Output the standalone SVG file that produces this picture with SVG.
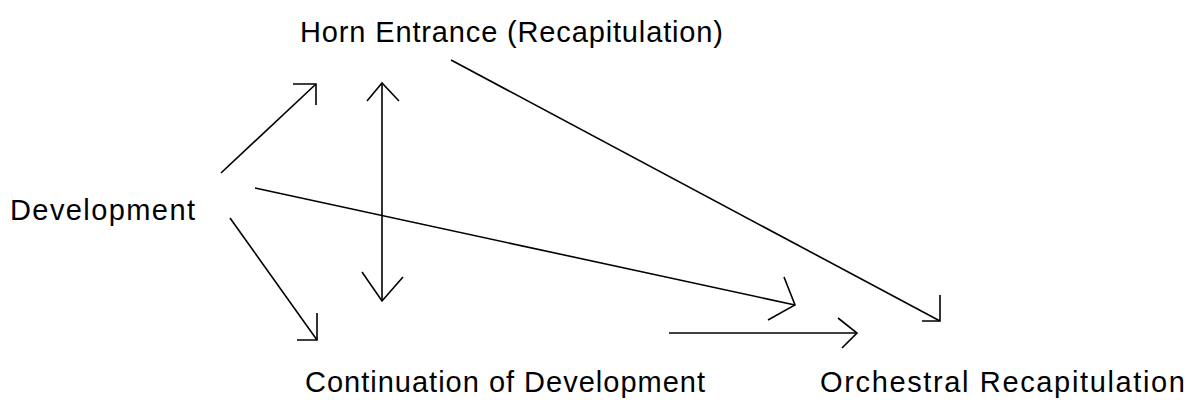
<svg xmlns="http://www.w3.org/2000/svg" width="1193" height="408" viewBox="0 0 1193 408">
<style>
text{font-family:"Liberation Sans",Arial,sans-serif;font-size:29px;fill:#000}
.c line,.c polyline{stroke:#000;stroke-width:1.6;fill:none}
</style>
<rect width="1193" height="408" fill="#fff"/>
<g id="node-horn"><text x="300" y="42" textLength="423" lengthAdjust="spacing">Horn Entrance (Recapitulation)</text></g>
<g id="node-development"><text x="10" y="220" textLength="185" lengthAdjust="spacing">Development</text></g>
<g id="node-continuation"><text x="305" y="392" textLength="400" lengthAdjust="spacing">Continuation of Development</text></g>
<g id="node-orchestral"><text x="820" y="392" textLength="365" lengthAdjust="spacing">Orchestral Recapitulation</text></g>
<g id="connectors" class="c">
<line x1="221" y1="173" x2="316" y2="84"/>
<polyline points="293,84 316,84 316,105"/>
<line x1="382" y1="83" x2="382" y2="301"/>
<polyline points="367,101 382,83 399,101"/>
<polyline points="362,272 382,301 403,277"/>
<line x1="230" y1="218" x2="317" y2="340"/>
<polyline points="317,313 317,340 297,340"/>
<line x1="255" y1="188" x2="795" y2="305"/>
<polyline points="784,277 795,305 768,320"/>
<line x1="451" y1="60" x2="940" y2="321"/>
<polyline points="940,295 940,321 922,321"/>
<line x1="669" y1="333" x2="857" y2="333"/>
<polyline points="838,318 857,333 842,348"/>
</g>
</svg>
